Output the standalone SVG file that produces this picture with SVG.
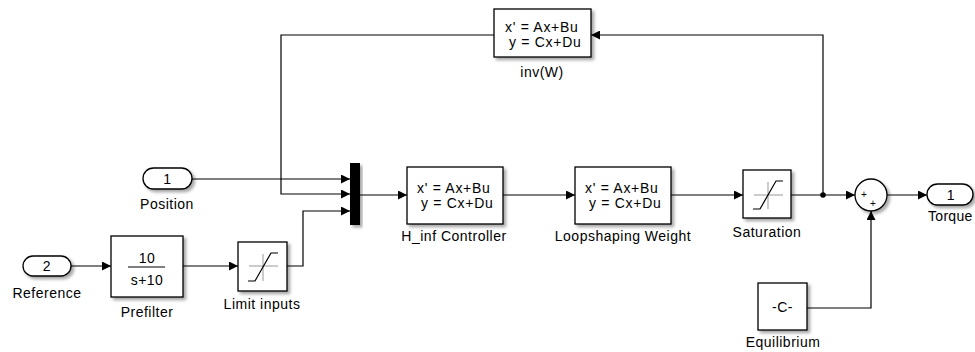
<svg xmlns="http://www.w3.org/2000/svg" width="975" height="352" viewBox="0 0 975 352">
<defs>
<filter id="sh" x="-20%" y="-20%" width="150%" height="150%">
<feDropShadow dx="2.5" dy="2.5" stdDeviation="1.5" flood-color="#000" flood-opacity="0.35"/>
</filter>
<marker id="ar" viewBox="0 0 10 10" refX="10" refY="5" markerWidth="9" markerHeight="9" markerUnits="userSpaceOnUse" orient="auto">
<path d="M0,0 L10,5 L0,10 z" fill="#000"/>
</marker>
<style>
.blk{fill:#fff;stroke:#000;stroke-width:1.3;filter:url(#sh)}
.ln{fill:none;stroke:#000;stroke-width:1.2}
.t{font-family:"Liberation Sans",Arial,sans-serif;font-size:14px;letter-spacing:0.7px;fill:#000}
.lb{font-family:"Liberation Sans",Arial,sans-serif;font-size:14px;letter-spacing:0.5px;fill:#000;text-anchor:middle}
.ax{stroke:#999;stroke-width:1;fill:none}
.cv{stroke:#000;stroke-width:1.2;fill:none}
</style>
</defs>
<rect width="975" height="352" fill="#fff"/>

<g id="connectors">
<path class="ln" d="M192,179 H350" marker-end="url(#ar)"/>
<path class="ln" d="M823,195 V35 H591" marker-end="url(#ar)"/>
<path class="ln" d="M494,35 H281 V194 H350" marker-end="url(#ar)"/>
<path class="ln" d="M71,266 H111" marker-end="url(#ar)"/>
<path class="ln" d="M183,266 H238" marker-end="url(#ar)"/>
<path class="ln" d="M287,266 H303 V211 H350" marker-end="url(#ar)"/>
<path class="ln" d="M360,195 H407" marker-end="url(#ar)"/>
<path class="ln" d="M503,195 H575" marker-end="url(#ar)"/>
<path class="ln" d="M671,195 H743" marker-end="url(#ar)"/>
<path class="ln" d="M791,195 H855" marker-end="url(#ar)"/>
<path class="ln" d="M887,195 H927" marker-end="url(#ar)"/>
<path class="ln" d="M807,308 H871 V211" marker-end="url(#ar)"/>
<circle cx="823" cy="195" r="2.8" fill="#000"/>
</g>

<g id="position">
<rect class="blk" x="143" y="168" width="49" height="21" rx="10.5"/>
<text class="lb" x="167.5" y="184">1</text>
<text class="lb" x="167" y="209">Position</text>
</g>

<g id="reference">
<rect class="blk" x="23" y="256" width="48" height="20" rx="10"/>
<text class="lb" x="47" y="271">2</text>
<text class="lb" x="47" y="298">Reference</text>
</g>

<g id="prefilter">
<rect class="blk" x="111" y="236" width="72" height="61"/>
<text class="lb" x="147" y="263">10</text>
<line x1="128" y1="267" x2="165" y2="267" stroke="#000" stroke-width="1"/>
<text class="lb" x="147" y="285">s+10</text>
<text class="lb" x="147" y="317">Prefilter</text>
</g>

<g id="limit_inputs">
<rect class="blk" x="238" y="242" width="49" height="49"/>
<path class="ax" d="M249,266 H278 M263,254 V281"/>
<path class="cv" d="M248,281 H255 L271,253 H278"/>
<text class="lb" x="262" y="309">Limit inputs</text>
</g>

<g id="mux">
<rect x="350" y="163" width="10" height="62" fill="#000" filter="url(#sh)"/>
</g>

<g id="inv_w">
<rect class="blk" x="494" y="9" width="97" height="48"/>
<text class="t" x="505" y="32">x' = Ax+Bu</text>
<text class="t" x="509" y="47">y = Cx+Du</text>
<text class="lb" x="542" y="77">inv(W)</text>
</g>

<g id="hinf_controller">
<rect class="blk" x="407" y="167" width="96" height="57"/>
<text class="t" x="417" y="193">x' = Ax+Bu</text>
<text class="t" x="421" y="208">y = Cx+Du</text>
<text class="lb" x="454" y="241">H_inf Controller</text>
</g>

<g id="loopshaping_weight">
<rect class="blk" x="575" y="167" width="96" height="57"/>
<text class="t" x="585" y="193">x' = Ax+Bu</text>
<text class="t" x="589" y="208">y = Cx+Du</text>
<text class="lb" x="623" y="241">Loopshaping Weight</text>
</g>

<g id="saturation">
<rect class="blk" x="743" y="170" width="48" height="48"/>
<path class="ax" d="M754,195 H783 M768,182 V209"/>
<path class="cv" d="M753,209 H760 L776,181 H783"/>
<text class="lb" x="767" y="237">Saturation</text>
</g>

<g id="sum">
<circle class="blk" cx="871" cy="195" r="16"/>
<text class="lb" x="864" y="198" style="font-size:10px;letter-spacing:0">+</text>
<text class="lb" x="873" y="207" style="font-size:10px;letter-spacing:0">+</text>
</g>

<g id="torque">
<rect class="blk" x="927" y="184" width="46" height="21" rx="10.5"/>
<text class="lb" x="951" y="199.5">1</text>
<text class="t" x="928" y="221" style="letter-spacing:0.3px">Torque</text>
</g>

<g id="equilibrium">
<rect class="blk" x="758" y="283" width="49" height="47"/>
<text class="lb" x="782.5" y="312">-C-</text>
<text class="lb" x="783" y="347">Equilibrium</text>
</g>
</svg>
